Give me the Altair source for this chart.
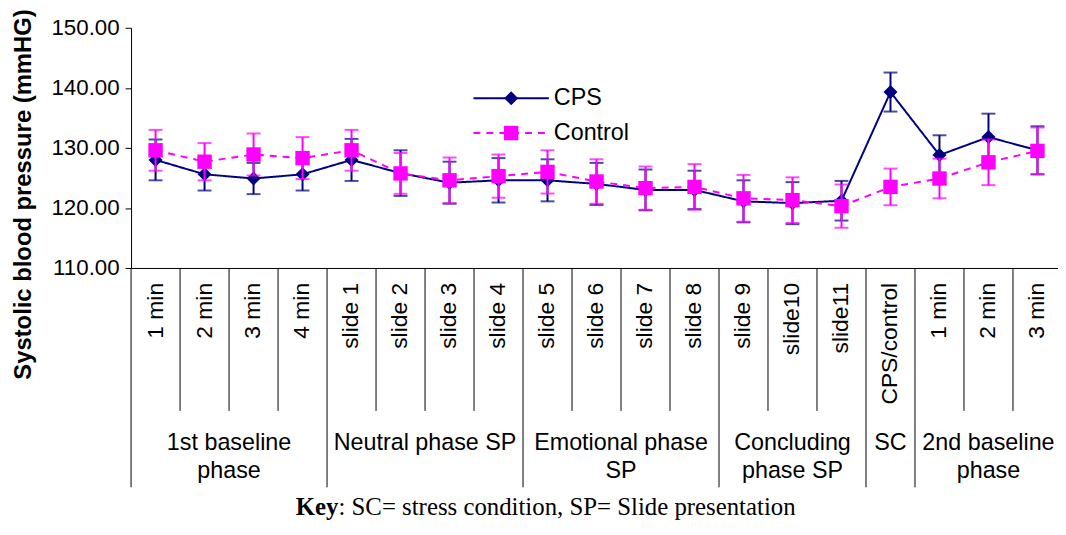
import altair as alt
import pandas as pd

# ---------------- data ----------------
categories = ["1 min", "2 min", "3 min", "4 min",
              "slide 1", "slide 2", "slide 3", "slide 4",
              "slide 5", "slide 6", "slide 7", "slide 8",
              "slide 9", "slide10", "slide11",
              "CPS/control",
              "1 min", "2 min", "3 min"]
cps_mean = [128.0, 125.6, 124.9, 125.6, 128.0, 125.8, 124.2, 124.6, 124.6, 124.0,
            123.0, 123.0, 121.1, 120.8, 121.2, 139.3, 128.8, 131.8, 129.6]
cps_err = [3.4, 2.7, 2.6, 2.7, 3.5, 3.8, 3.5, 3.7, 3.5, 3.5,
           3.4, 3.2, 3.5, 3.5, 3.3, 3.25, 3.3, 3.9, 4.0]
ctrl_mean = [129.6, 127.7, 128.9, 128.3, 129.6, 125.75, 124.6, 125.3, 126.0, 124.4,
             123.3, 123.5, 121.6, 121.3, 120.3, 123.5, 124.9, 127.6, 129.5]
ctrl_err = [3.4, 3.1, 3.5, 3.5, 3.4, 3.4, 3.8, 3.6, 3.6, 3.7,
            3.6, 3.8, 3.9, 3.8, 3.6, 3.05, 3.3, 3.8, 3.9]
group_labels = ["1st baseline\nphase", "Neutral phase SP", "Emotional phase\nSP",
                "Concluding\nphase SP", "SC", "2nd baseline\nphase"]
group_sizes = [4, 4, 4, 3, 1, 3]
series_names = ["CPS", "Control"]
y_ticks = [110, 120, 130, 140, 150]
key_bold = "Key"
key_rest = ": SC= stress condition, SP= Slide presentation"

# ---------------- styles ----------------
COLORS = {"CPS": "#000080", "Control": "#FF00FF"}
SHAPES = {"CPS": "diamond", "Control": "square"}
SIZES = {"CPS": 200, "Control": 210}
DASH = {"CPS": [1, 0], "Control": [7, 6]}
FONT = "Liberation Sans"
W, H = 938, 242          # plot area (right edge runs just past the page, as in the reference)
TABLE_H = 221            # height of the category table below the plot
SHORT_H = 144            # inner separators
PAD_L, PAD_T, PAD_R = 124, 18, -4
SVG_H = 514

rows = []
for i, c in enumerate(categories):
    rows.append(dict(pos=i + 0.5, cat=c, series="CPS", mean=cps_mean[i],
                     lo=cps_mean[i] - cps_err[i], hi=cps_mean[i] + cps_err[i]))
    rows.append(dict(pos=i + 0.5, cat=c, series="Control", mean=ctrl_mean[i],
                     lo=ctrl_mean[i] - ctrl_err[i], hi=ctrl_mean[i] + ctrl_err[i]))
df = pd.DataFrame(rows)

xscale = alt.Scale(domain=[0, len(categories)], nice=False, zero=False)
yscale = alt.Scale(domain=[110, 150], nice=False, zero=False)

x_axis = alt.Axis(domain=True, domainColor="black", domainWidth=1, ticks=False,
                  labels=False, grid=False, title=None)
y_axis = alt.Axis(values=y_ticks, format=".2f", grid=False,
                  labelFont=FONT, labelFontSize=22.5, labelColor="black", labelPadding=6,
                  tickSize=6, tickColor="black", domainColor="black",
                  title="Systolic blood pressure (mmHG)", titleFont=FONT,
                  titleFontSize=24, titleFontWeight="bold", titleColor="black",
                  titleAngle=270, titleX=-108, titleY=167.5, titleAlign="center",
                  titleBaseline="middle")


def X(field="pos"):
    return alt.X(f"{field}:Q", scale=xscale, axis=x_axis)


def Y(field):
    return alt.Y(f"{field}:Q", scale=yscale, axis=y_axis)


layers = []
for s in series_names:
    d = alt.Chart(df).transform_filter(alt.datum.series == s)
    col = COLORS[s]
    layers.append(d.mark_rule(color=col, strokeWidth=2).encode(x=X(), y=Y("lo"), y2="hi:Q"))
    layers.append(d.mark_tick(color=col, orient="horizontal", size=14, thickness=2)
                  .encode(x=X(), y=Y("lo")))
    layers.append(d.mark_tick(color=col, orient="horizontal", size=14, thickness=2)
                  .encode(x=X(), y=Y("hi")))
    layers.append(d.mark_line(color=col, strokeWidth=2, strokeDash=DASH[s])
                  .encode(x=X(), y=Y("mean")))
    layers.append(d.mark_point(shape=SHAPES[s], filled=True, opacity=1, color=col,
                               size=SIZES[s]).encode(x=X(), y=Y("mean")))

# manual legend (inside plot)
leg_df = pd.DataFrame({"series": series_names})
leg_y = {"CPS": 71, "Control": 106}
for s in series_names:
    lc = alt.Chart(leg_df).transform_filter(alt.datum.series == s)
    col = COLORS[s]
    layers.append(lc.mark_rule(color=col, strokeWidth=2, strokeDash=DASH[s])
                  .encode(x=alt.value(345), x2=alt.value(421), y=alt.value(leg_y[s])))
    layers.append(lc.mark_point(shape=SHAPES[s], filled=True, opacity=1, color=col,
                                size=SIZES[s])
                  .encode(x=alt.value(383), y=alt.value(leg_y[s])))
    layers.append(lc.mark_text(align="left", baseline="middle", font=FONT, fontSize=23.5,
                               color="black")
                  .encode(x=alt.value(426), y=alt.value(leg_y[s]), text="series:N"))

# ---------------- category table under the plot ----------------
cat_df = pd.DataFrame({"pos": [i + 0.5 for i in range(len(categories))],
                       "label": categories})
bounds = [0]
for g in group_sizes:
    bounds.append(bounds[-1] + g)
short_pos = [i for i in range(1, len(categories)) if i not in bounds]
long_df = pd.DataFrame({"pos": bounds})
short_df = pd.DataFrame({"pos": short_pos})
grp_df = pd.DataFrame({"center": [(bounds[i] + bounds[i + 1]) / 2 for i in range(len(group_sizes))],
                       "label": group_labels})
key_df = pd.DataFrame({"k": [key_bold], "rest": [key_rest]})

xb = lambda f: alt.X(f"{f}:Q", scale=xscale, axis=x_axis)

KEY_Y = 491
layers += [
    alt.Chart(long_df).mark_rule(color="black", strokeWidth=1)
    .encode(x=xb("pos"), y=alt.value(H), y2=alt.value(H + TABLE_H)),
    alt.Chart(short_df).mark_rule(color="black", strokeWidth=1)
    .encode(x=xb("pos"), y=alt.value(H), y2=alt.value(H + SHORT_H)),
    alt.Chart(cat_df).mark_text(angle=270, align="right", baseline="middle",
                                font=FONT, fontSize=23, color="black")
    .encode(x=xb("pos"), y=alt.value(H + 15), text="label:N"),
    alt.Chart(grp_df).mark_text(align="center", baseline="alphabetic", lineBreak="\n",
                                lineHeight=29, font=FONT, fontSize=23.5, color="black")
    .encode(x=xb("center"), y=alt.value(H + 183), text="label:N"),
    alt.Chart(key_df).mark_text(align="left", baseline="alphabetic", font="Liberation Serif",
                                fontSize=25, fontWeight="bold", color="black")
    .encode(x=alt.value(166), y=alt.value(KEY_Y), text="k:N"),
    alt.Chart(key_df).mark_text(align="left", baseline="alphabetic", font="Liberation Serif",
                                fontSize=25, color="black")
    .encode(x=alt.value(209), y=alt.value(KEY_Y), text="rest:N"),
]

chart = alt.layer(*layers).properties(
    width=W, height=H,
    autosize=alt.AutoSizeParams(type="none"),
    padding={"left": PAD_L, "top": PAD_T, "right": PAD_R, "bottom": SVG_H - PAD_T - H},
    background="white",
).configure_view(stroke=None)

chart.save("out.html", embed_options={"renderer": "svg", "actions": False})
